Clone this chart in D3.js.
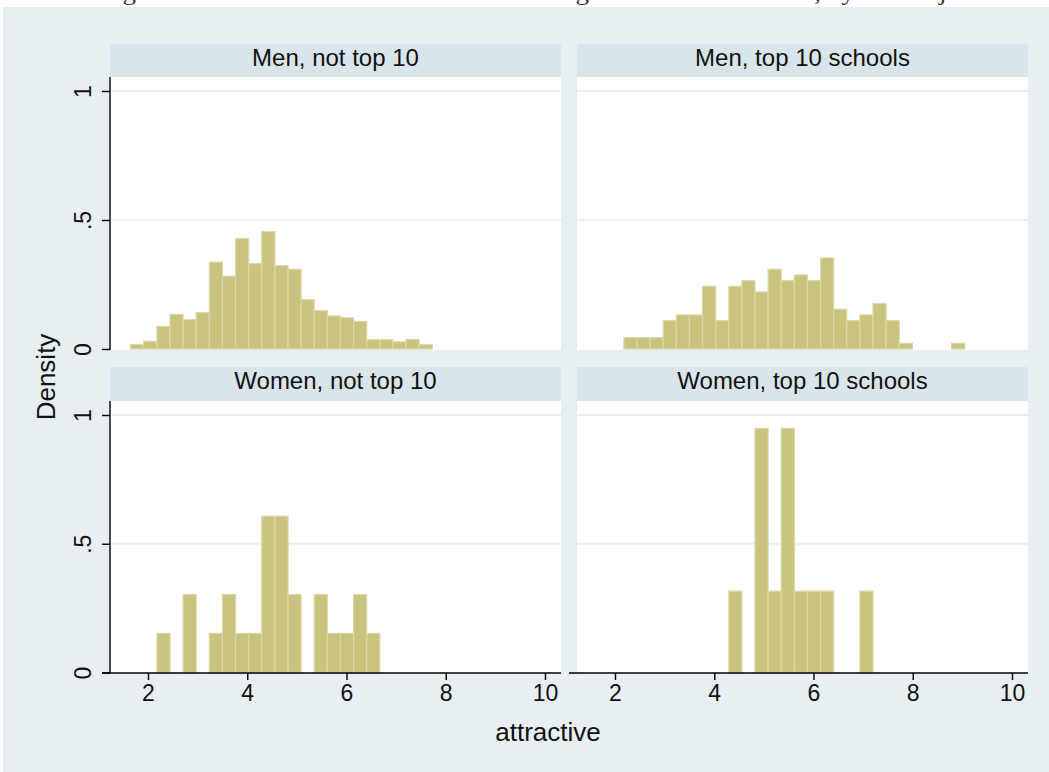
<!DOCTYPE html>
<html>
<head>
<meta charset="utf-8">
<script src="https://cdn.jsdelivr.net/npm/d3@7"></script>
<style>
  html, body { margin: 0; padding: 0; background: #ffffff; }
  svg { display: block; }
</style>
</head>
<body>
<svg id="chart" width="1049" height="772"></svg>
<script>
// ---- data ----
const panelTitles = ["Men, not top 10", "Men, top 10 schools", "Women, not top 10", "Women, top 10 schools"];
const binStart = 1.651;          // left edge of first histogram bin (attractive)
const binWidth = 0.2642;         // histogram bin width
// densities per bin (common bins across panels)
const menNotTop10   = [0.017, 0.030, 0.087, 0.134, 0.114, 0.141, 0.337, 0.282, 0.428, 0.331, 0.455, 0.323, 0.309, 0.191, 0.149, 0.128, 0.121, 0.107, 0.036, 0.036, 0.028, 0.037, 0.017];
const menTop10      = [0, 0, 0.044, 0.044, 0.044, 0.110, 0.132, 0.132, 0.243, 0.110, 0.243, 0.265, 0.221, 0.309, 0.265, 0.287, 0.265, 0.353, 0.154, 0.110, 0.132, 0.176, 0.110, 0.022, 0, 0, 0, 0.022];
const womenNotTop10 = [0, 0, 0.152, 0, 0.303, 0, 0.152, 0.303, 0.152, 0.152, 0.607, 0.607, 0.303, 0, 0.303, 0.152, 0.152, 0.303, 0.152];
const womenTop10    = [0, 0, 0, 0, 0, 0, 0, 0, 0, 0, 0.316, 0, 0.948, 0.316, 0.948, 0.316, 0.316, 0.316, 0, 0, 0.316];
const panelSeries = [menNotTop10, menTop10, womenNotTop10, womenTop10];
const xTicks = [2, 4, 6, 8, 10];
const yTicks = [0, 0.5, 1];
const yTickLabels = ["0", ".5", "1"];
const xTitle = "attractive";
const yTitle = "Density";
const captionText = "Figure 1: Distribution of attractiveness ratings of men and women, by the subject";

// ---- layout ----
const svg = d3.select("#chart");
const font = "Liberation Sans, Arial, Helvetica, sans-serif";
const bgCol = "#e8eff2", stripCol = "#d9e5ea", gridCol = "#e8eff2";
const barFill = "#cac27f", barStroke = "#dcd7a6";

// caption (clipped at top, as in the reference)
svg.append("text")
  .attr("x", 100).attr("y", 0)
  .attr("font-family", "Liberation Serif, Times New Roman, serif")
  .attr("font-size", 24)
  .attr("textLength", 878).attr("lengthAdjust", "spacingAndGlyphs")
  .attr("fill", "#333")
  .text(captionText);

svg.append("rect").attr("x", 3).attr("y", 7).attr("width", 1046).attr("height", 765).attr("fill", bgCol);

const cols = [{x0: 110, x1: 561}, {x0: 577, x1: 1028}];
const rows = [{s0: 44, p0: 77, p1: 350, y0: 349, y1: 91},
              {s0: 367, p0: 401, p1: 673, y0: 672.5, y1: 415}];

panelSeries.forEach((series, i) => {
  const c = cols[i % 2], r = rows[Math.floor(i / 2)];
  const x = d3.scaleLinear().domain([2, 10]).range([c.x0 + 38, c.x0 + 435]);
  const y = d3.scaleLinear().domain([0, 1]).range([r.y0, r.y1]);
  const g = svg.append("g");

  // strip
  g.append("rect").attr("x", c.x0).attr("y", r.s0).attr("width", c.x1 - c.x0).attr("height", r.p0 - r.s0).attr("fill", stripCol);
  g.append("text").attr("x", (c.x0 + c.x1) / 2).attr("y", r.s0 + 22)
    .attr("text-anchor", "middle").attr("font-family", font).attr("font-size", 24).attr("fill", "#111")
    .text(panelTitles[i]);

  // plot area
  g.append("rect").attr("x", c.x0).attr("y", r.p0).attr("width", c.x1 - c.x0).attr("height", r.p1 - r.p0).attr("fill", "#ffffff");

  // gridlines
  g.selectAll(".grid").data(yTicks.filter(d => d > 0)).enter().append("line")
    .attr("x1", c.x0).attr("x2", c.x1).attr("y1", d => y(d)).attr("y2", d => y(d))
    .attr("stroke", gridCol).attr("stroke-width", 2);

  // bars
  const bins = series.map((v, k) => ({x0: binStart + k * binWidth, x1: binStart + (k + 1) * binWidth, v}))
                     .filter(d => d.v > 0);
  g.selectAll(".bar").data(bins).enter().append("rect")
    .attr("x", d => x(d.x0)).attr("width", d => x(d.x1) - x(d.x0))
    .attr("y", d => y(d.v)).attr("height", d => y(0) - y(d.v))
    .attr("fill", barFill).attr("stroke", barStroke).attr("stroke-width", 1.2);

  // y axis (left column only)
  if (i % 2 === 0) {
    const ya = g.append("g").attr("transform", `translate(${c.x0},0)`)
      .call(d3.axisLeft(y).tickValues(yTicks).tickSize(8).tickFormat((d, k) => yTickLabels[k]));
    ya.select(".domain").attr("d", `M0,${r.p0}V${r.p1}`).attr("stroke", "#000").attr("stroke-width", 1.4);
    ya.selectAll(".tick line").attr("stroke", "#000").attr("stroke-width", 1.4);
    ya.selectAll(".tick text")
      .attr("font-family", font).attr("font-size", 23).attr("fill", "#111")
      .attr("x", null).attr("dy", null).attr("text-anchor", "middle")
      .attr("transform", "translate(-19,0) rotate(-90)")
      .attr("y", 0);
  }
  // x axis (bottom row only)
  if (i >= 2) {
    const xa = g.append("g").attr("transform", `translate(0,${r.p1})`)
      .call(d3.axisBottom(x).tickValues(xTicks).tickSize(7).tickPadding(5));
    xa.select(".domain").attr("d", `M${c.x0 - 8},0H${c.x1}`).attr("stroke", "#000").attr("stroke-width", 1.4);
    xa.selectAll(".tick line").attr("stroke", "#000").attr("stroke-width", 1.4);
    xa.selectAll(".tick text").attr("font-family", font).attr("font-size", 23).attr("fill", "#111");
  }
});

// axis titles
svg.append("text").attr("x", 548).attr("y", 741).attr("text-anchor", "middle")
  .attr("font-family", font).attr("font-size", 26).attr("fill", "#111").text(xTitle);
svg.append("text").attr("transform", "translate(55,377) rotate(-90)").attr("text-anchor", "middle")
  .attr("font-family", font).attr("font-size", 26).attr("fill", "#111").text(yTitle);
</script>
</body>
</html>
